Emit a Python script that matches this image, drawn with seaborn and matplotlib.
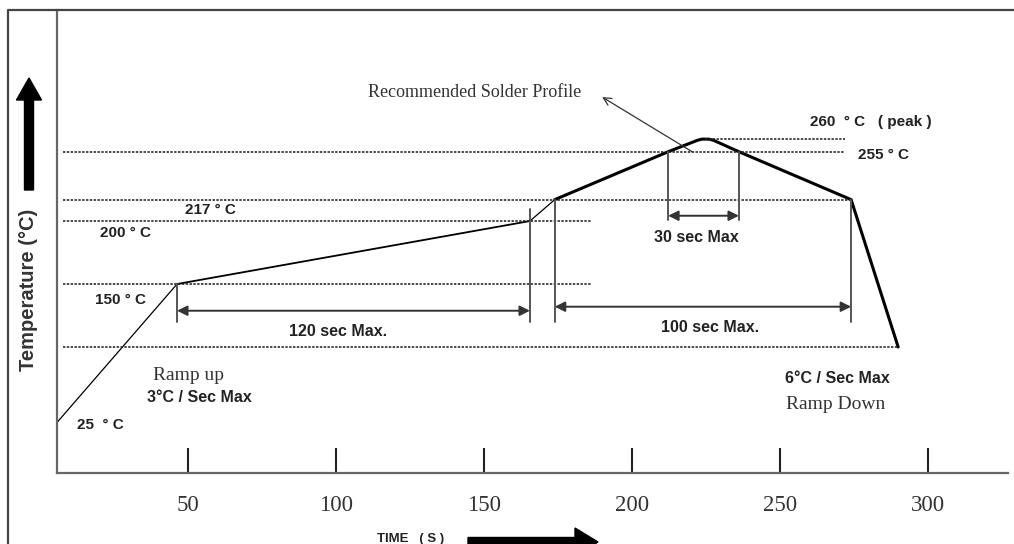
import numpy as np
import pandas as pd
import matplotlib
matplotlib.use('Agg')
import matplotlib.pyplot as plt
from matplotlib.patches import FancyArrow
import seaborn as sns

# Reflow profile, split into stages (time in s, temperature in deg C)
ramp_time = [5.7, 46.3]
ramp_temp = [25, 150]
soak_time = [46.3, 165.5]
soak_temp = [150, 200]
rise_time = [165.5, 173.9]
rise_temp = [200, 217]
reflow_time = [173.9, 212.2, 222.0, 223.6, 226.0, 227.6, 236.1, 274.0, 289.9]
reflow_temp = [217, 255, 259.5, 260, 260, 259.5, 255, 217, 100]

# reference levels (dotted lines) and where they run
levels = [260, 255, 217, 200, 150, 100]
level_start = [224.5, 7.8, 7.8, 7.8, 7.8, 7.8]
level_end = [272, 272, 274, 186.5, 186.5, 289.9]

level_labels = ['260  ° C   ( peak )', '255 ° C', '217 ° C', '200 ° C', '150 ° C', '25  ° C']
label_time = [260.1, 276.4, 49.0, 20.3, 18.6, 12.5]
label_temp = [273.6, 252.4, 208.7, 190.5, 137.3, 22.6]

# time windows: (start, end, arrow temp, label, label time, label temp)
windows = [
    (46.3, 165.5, 128.8, '120 sec Max.', 100.8, 112.7),
    (173.9, 274.0, 132.0, '100 sec Max.', 226.2, 115.1),
    (212.2, 236.1, 204.2, '30 sec Max', 221.8, 187.3),
]
# vertical marker lines: (time, low temp, high temp)
markers = [(46.3, 120.1, 150), (165.5, 120.1, 209.5), (173.9, 120.1, 217),
           (274.0, 120.1, 217), (212.2, 200.8, 255), (236.1, 200.8, 255)]

xticks = [50, 100, 150, 200, 250, 300]

sns.set_style('white')
plt.rcParams['font.family'] = ['Liberation Sans', 'DejaVu Sans']

df = pd.concat([
    pd.DataFrame({'time': ramp_time, 'temp': ramp_temp, 'stage': 'ramp'}),
    pd.DataFrame({'time': soak_time, 'temp': soak_temp, 'stage': 'soak'}),
    pd.DataFrame({'time': rise_time, 'temp': rise_temp, 'stage': 'rise'}),
    pd.DataFrame({'time': reflow_time, 'temp': reflow_temp, 'stage': 'reflow'}),
], ignore_index=True)

fig = plt.figure(figsize=(10.14, 5.44), dpi=100)
ax = fig.add_axes([57 / 1014, 1 - 473 / 544, 951 / 1014, 463 / 544])

sns.lineplot(data=df, x='time', y='temp', size='stage',
             sizes={'ramp': 0.9, 'soak': 1.3, 'rise': 0.9, 'reflow': 2.2},
             units='stage', estimator=None, sort=False, color='black',
             legend=False, ax=ax)

# schematic (not to scale) temperature axis
knot_temp = [-200, 100, 255, 260, 600]
knot_pos = [-240, 0, 155, 165, 505]
ax.set_yscale('function', functions=(lambda t: np.interp(t, knot_temp, knot_pos),
                                     lambda p: np.interp(p, knot_pos, knot_temp)))
ax.set_xlim(5.74, 327)
ax.set_ylim(-25, 362.5)

ax.hlines(levels, level_start, level_end, colors='#222222', lw=1.15,
          linestyles=[(0, (1.5, 0.9))])

for t, lo, hi in markers:
    ax.plot([t, t], [lo, hi], color='#555555', lw=1.4)

for t0, t1, ya, txt, tx, ty in windows:
    ax.annotate('', xy=(t1, ya), xytext=(t0, ya),
                arrowprops=dict(arrowstyle='<|-|>', color='#333333', lw=1.4,
                                mutation_scale=15, shrinkA=0, shrinkB=0))
    ax.text(tx, ty, txt, ha='center', va='center', fontsize=11.5,
            fontweight='bold', color='#222222')

for txt, tx, ty in zip(level_labels, label_time, label_temp):
    ax.text(tx, ty, txt, ha='left', va='center', fontsize=11,
            fontweight='bold', color='#222222')

serif = 'Liberation Serif'
ax.text(110.8, 297.4, 'Recommended Solder Profile', family=serif, fontsize=13,
        ha='left', va='center', color='#333333')
ax.annotate('', xy=(189.9, 293.4), xytext=(220.3, 255),
            arrowprops=dict(arrowstyle='->', color='#333333', lw=0.9,
                            mutation_scale=14, shrinkA=0, shrinkB=0))
ax.text(38.2, 72.2, 'Ramp up', family=serif, fontsize=14, ha='left',
        va='center', color='#333333')
ax.text(36.1, 50.4, '3°C / Sec Max', fontsize=11.5, fontweight='bold',
        ha='left', va='center', color='#222222')
ax.text(251.7, 69.2, '6°C / Sec Max', fontsize=11.5, fontweight='bold',
        ha='left', va='center', color='#222222')
ax.text(252.0, 42.5, 'Ramp Down', family=serif, fontsize=14, ha='left',
        va='center', color='#333333')

ax.set_xticks(xticks)
ax.set_xticklabels([str(v) for v in xticks], family=serif, fontsize=16.5,
                   color='#333333')
ax.set_yticks([])
ax.tick_params(axis='x', direction='in', length=18, width=1.5,
               color='#222222', pad=16, bottom=True)
ax.set_xlabel('')
ax.set_ylabel('')
for side in ['top', 'right']:
    ax.spines[side].set_visible(False)
for side in ['left', 'bottom']:
    ax.spines[side].set_color('#666666')
    ax.spines[side].set_linewidth(1.6)

# figure frame (left and top edges)
fig.add_artist(plt.Line2D([8 / 1014, 8 / 1014, 1], [0, 1 - 10 / 544, 1 - 10 / 544],
                          transform=fig.transFigure, color='#444444', lw=1.6))

# axis arrows and titles
fig.add_artist(FancyArrow(29 / 1014, 1 - 190 / 544, 0, 112 / 544, width=9 / 1014,
                          head_width=25 / 1014, head_length=22 / 544,
                          length_includes_head=True, transform=fig.transFigure,
                          color='black'))
fig.text(29 / 1014, 1 - 290 / 544, 'Temperature (°C)', rotation=90, ha='center',
         va='center', fontsize=14.5, fontweight='bold', color='#333333')
fig.add_artist(FancyArrow(468 / 1014, 1 - 542 / 544, 130 / 1014, 0, width=9 / 544,
                          head_width=28 / 544, head_length=23 / 1014,
                          length_includes_head=True, transform=fig.transFigure,
                          color='black'))
fig.text(377 / 1014, 1 - 539 / 544, 'TIME   ( S )', ha='left', va='center',
         fontsize=9.5, fontweight='bold', color='#222222')

fig.savefig('out.png', dpi=100)
